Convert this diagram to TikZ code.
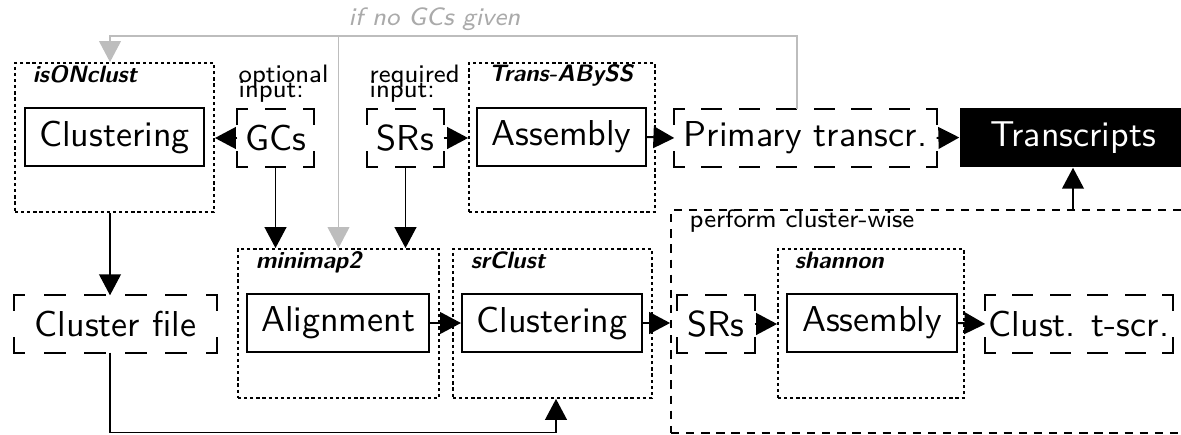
\documentclass[tikz,border=0pt]{standalone}
\usetikzlibrary{arrows.meta,calc}
% one drawing unit = one pixel of the layout grid
\newdimen\pxu \pxu=0.27778pt
\definecolor{hintgray}{gray}{0.74}
\newcommand{\tightlines}{\lineskiplimit=-10pt\relax}
\tikzset{
  every node/.style={font=\sffamily},
  proc/.style={draw, line width=0.55pt, minimum height=58*\pxu, inner sep=0pt},
  data/.style={minimum height=56*\pxu, inner sep=0pt},
  dataline/.style={line width=0.55pt, line cap=rect},
  result/.style={fill=black, text=white, minimum height=59*\pxu, inner sep=0pt},
  grp/.style={draw, line width=0.5pt, dash pattern=on 0.9pt off 0.8pt, inner sep=0pt,
              minimum height=149*\pxu},
  outer/.style={draw, line width=0.5pt, dash pattern=on 2.3pt off 1.9pt, inner sep=0pt},
  grplabel/.style={font=\sffamily\bfseries\slshape\fontsize{6.6}{7}\selectfont,
                   anchor=north west, inner sep=0pt},
  inlabel/.style={font=\sffamily\fontsize{7}{4.2}\selectfont\tightlines,
                  align=left, anchor=north west, inner sep=0pt},
  conn/.style={line width=0.55pt, -{Triangle[length=5.8pt,width=6pt]}},
  hint/.style={draw=hintgray, line width=0.45pt, -{Triangle[length=5.8pt,width=6pt]}},
}
% one dashed side, fitted so that both of its ends carry half a dash
\newcommand{\dashside}[2]{%
  \draw[dataline] let \p1=($(#2)-(#1)$), \n1={veclen(\x1,\y1)},
    \n2={\n1/max(1,floor(\n1/10.3+0.4))}, \n3={\n2/2}, \n4={\n2/4} in
    [dash pattern=on \n3 off \n3, dash phase=\n4] (#1) -- (#2);}
% dashed frame of a data node
\newcommand{\dashframe}[1]{%
  \dashside{#1.north west}{#1.north east}%
  \dashside{#1.south west}{#1.south east}%
  \dashside{#1.north west}{#1.south west}%
  \dashside{#1.north east}{#1.south east}}
\begin{document}
\begin{tikzpicture}[x=\pxu, y=-\pxu]
\useasboundingbox (0,0) rectangle (1181,434);

% tool groups (dotted frames)
\node[grp, minimum width=199*\pxu] (iso) at (114.5,137.5) {};
\node[grp, minimum width=186*\pxu] (tab) at (562,137.5) {};
\node[grp, minimum width=201*\pxu] (mm)  at (338.5,323.5) {};
\node[grp, minimum width=199*\pxu] (sc)  at (552.5,323.5) {};
\node[grp, minimum width=186*\pxu] (sha) at (871,323.5) {};
\node[outer, minimum width=529*\pxu, minimum height=223*\pxu] (pcw) at (935.5,321.5) {};

\node[grplabel] (isolab) at ([xshift=18*\pxu, yshift=-3*\pxu]iso.north west) {isONclust};
\node[grplabel] (tablab) at ([xshift=20*\pxu, yshift=-2*\pxu]tab.north west) {Trans-ABySS};
\node[grplabel] (mmlab)  at ([xshift=18*\pxu, yshift=-3*\pxu]mm.north west) {minimap2};
\node[grplabel] (sclab)  at ([xshift=18*\pxu, yshift=-3*\pxu]sc.north west) {srClust};
\node[grplabel] (shalab) at ([xshift=17*\pxu, yshift=-3*\pxu]sha.north west) {shannon};
\node[font=\sffamily\fontsize{7}{8}\selectfont, anchor=base west, inner sep=0pt] (pcwlab)
  at (689,227) {perform cluster-wise};

% top row
\node[proc, minimum width=179*\pxu] (clu1) at (114.5,137) {Clustering};
\node[data, minimum width=75*\pxu]  (gc)   at (275.5,138) {GCs};
\node[data, minimum width=75*\pxu]  (sr1)  at (405.5,138) {SRs};
\node[proc, minimum width=169*\pxu] (asm1) at (561.5,137) {Assembly};
\node[data, minimum width=261*\pxu] (prim) at (805.5,138) {Primary transcr.};
\node[result, minimum width=226*\pxu] (tr) at (1073,137.5) {Transcripts};

\node[inlabel] (optlab) at (238,64.5) {optional\\input:};
\node[inlabel] (reqlab) at (369,64.5) {required\\input:};

% bottom row
\node[data, minimum width=201*\pxu] (cf)   at (115.5,324) {Cluster file};
\node[proc, minimum width=182*\pxu] (aln)  at (338,323) {Alignment};
\node[proc, minimum width=180*\pxu] (clu2) at (552,323) {Clustering};
\node[data, minimum width=76*\pxu]  (sr2)  at (716,324) {SRs};
\node[proc, minimum width=170*\pxu] (asm2) at (872,323) {Assembly};
\node[data, minimum width=186*\pxu] (cts)  at (1079,324) {Clust. t-scr.};

\dashframe{gc}
\dashframe{sr1}
\dashframe{prim}
\dashframe{cf}
\dashframe{sr2}
\dashframe{cts}

% routing points
\coordinate (cx) at (110,0);
\coordinate (gr) at (797,36);
\coordinate (gl) at (110,36);
\coordinate (by) at (556,432.5);

% fallback route when no GCs are given
\node[font=\sffamily\slshape\fontsize{7}{8}\selectfont, text=hintgray!90!black, anchor=base,
      inner sep=0pt] (iflab) at (434.5,25) {if no GCs given};
\draw[hint] (prim.north -| gr) -- (gr) -- (gl) -- (iso.north -| gl);
\draw[hint] (mm.north |- gr) -- (mm.north);

% main flow
\draw[conn] (gc.west) -- (iso.east |- gc.west);
\draw[conn] (sr1.east) -- (tab.west |- sr1.east);
\draw[conn] (asm1.east) -- (prim.west);
\draw[conn] (prim.east) -- (tr.west);
\draw[conn] (gc.south) -- (mm.north -| gc.south);
\draw[conn] (sr1.south) -- (mm.north -| sr1.south);
\draw[conn] (iso.south -| cx) -- (cf.north -| cx);
\draw[conn] (cf.south -| cx) |- (by) -- (sc.south -| by);
\draw[conn] (aln.east) -- (clu2.west);
\draw[conn] (clu2.east) -- (pcw.west |- clu2.east);
\draw[conn] (sr2.east) -- (sha.west |- sr2.east);
\draw[conn] (asm2.east) -- (cts.west);
\draw[conn] (pcw.north -| tr.south) -- (tr.south);
\end{tikzpicture}
\end{document}
